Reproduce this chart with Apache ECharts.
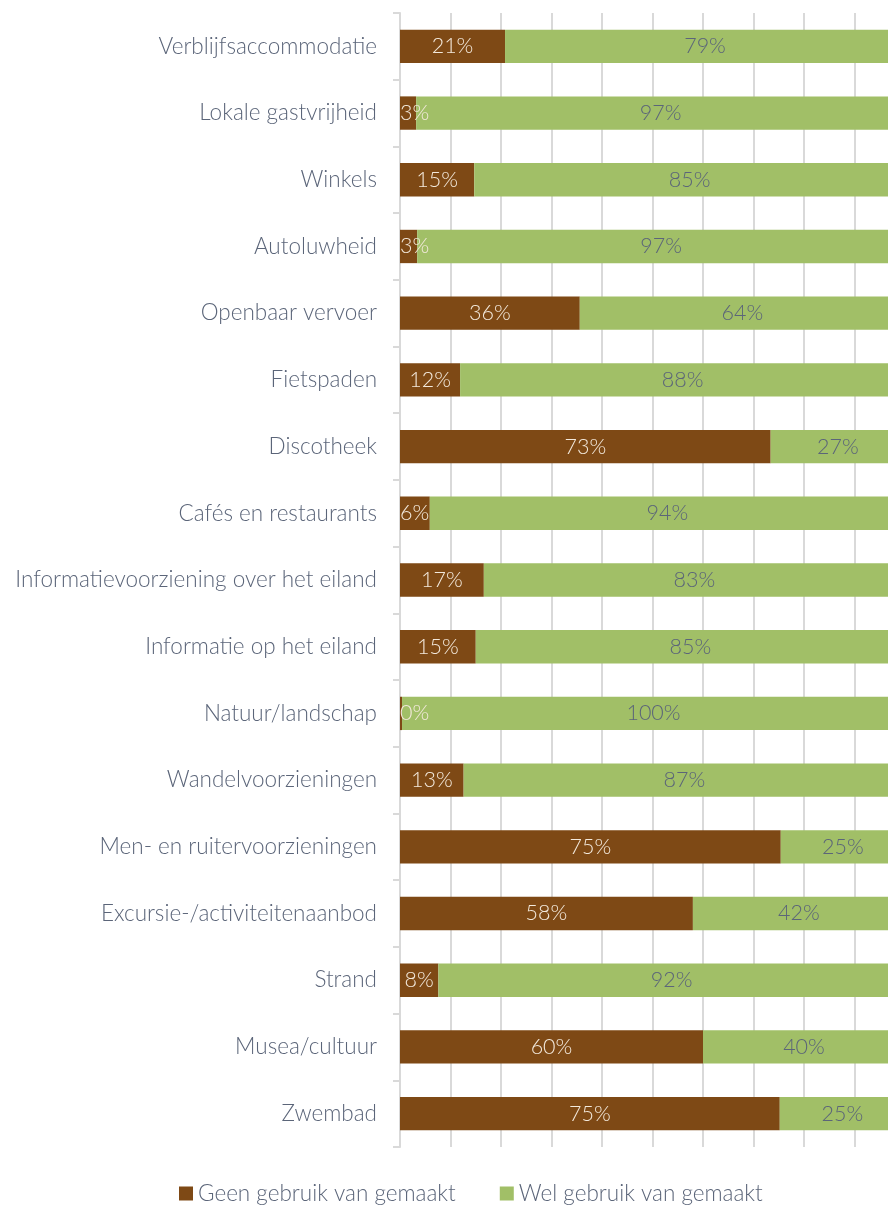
<!DOCTYPE html>
<html>
<head>
<meta charset="utf-8">
<script src="https://cdn.jsdelivr.net/npm/echarts@6/dist/echarts.min.js"></script>
<style>
  html, body { margin: 0; padding: 0; background: #fff; }
  #chart { width: 888px; height: 1212px; }
</style>
</head>
<body>
<div id="chart"></div>
<script>
// categories, top to bottom as in the picture
const categories = [
  "Verblijfsaccommodatie",
  "Lokale gastvrijheid",
  "Winkels",
  "Autoluwheid",
  "Openbaar vervoer",
  "Fietspaden",
  "Discotheek",
  "Cafés en restaurants",
  "Informatievoorziening over het eiland",
  "Informatie op het eiland",
  "Natuur/landschap",
  "Wandelvoorzieningen",
  "Men- en ruitervoorzieningen",
  "Excursie-/activiteitenaanbod",
  "Strand",
  "Musea/cultuur",
  "Zwembad"
];
// percentages
const geenValues = [20.8, 3.2, 14.7, 3.4, 35.6, 11.9, 73.4, 5.9, 16.6, 15.0, 0.4, 12.6, 75.4, 58.0, 7.6, 60.0, 75.2];
const welValues = [79.2, 96.8, 85.3, 96.6, 64.4, 88.1, 26.6, 94.1, 83.4, 85.0, 99.6, 87.4, 24.6, 42.0, 92.4, 40.0, 24.8];
const seriesNames = ["Geen gebruik van gemaakt", "Wel gebruik van gemaakt"];

const FONT = "Lato";
const TEXT = "#5b6579";
const BROWN = "#7e4915";
const GREEN = "#a1bf67";

const chart = echarts.init(document.getElementById("chart"), null, { renderer: "canvas" });

function makeData(values, small) {
  return values.map((v) => {
    if (small && v < 7) {
      return { value: v, label: { position: "insideLeft", distance: 0 } };
    }
    return v;
  });
}

chart.setOption({
  animation: false,
  textStyle: { fontFamily: FONT },
  // the plot runs past the right edge of the picture (100% sits at ~905px)
  grid: { left: 400, top: 13, height: 1134, width: 505, outerBoundsMode: "none" },
  legend: {
    bottom: 2,
    left: 174,
    itemWidth: 14,
    itemHeight: 14,
    itemGap: 44,
    icon: "rect",
    textStyle: { fontFamily: FONT, fontSize: 22.5, color: TEXT, fontWeight: 300 },
    data: seriesNames
  },
  xAxis: {
    type: "value",
    min: 0,
    max: 100,
    interval: 10,
    axisLabel: { show: false },
    axisLine: { show: false },
    axisTick: { show: false },
    splitLine: { lineStyle: { color: "#d9d9d9", width: 2 } }
  },
  yAxis: {
    type: "category",
    inverse: true,
    data: categories,
    axisLine: { show: true, lineStyle: { color: "#d9d9d9", width: 2 } },
    axisTick: { show: true, length: 7, lineStyle: { color: "#d9d9d9", width: 2 } },
    axisLabel: {
      margin: 23,
      fontFamily: FONT,
      fontSize: 22.5,
      fontWeight: 300,
      color: TEXT
    }
  },
  series: [
    {
      name: seriesNames[0],
      type: "bar",
      stack: "total",
      barWidth: "50%",
      itemStyle: { color: BROWN },
      label: {
        show: true,
        position: "inside",
        fontFamily: FONT,
        fontSize: 21.5,
        fontWeight: 300,
        color: "#f3e9dc",
        formatter: (p) => Math.round(p.value) + "%"
      },
      data: makeData(geenValues, true)
    },
    {
      name: seriesNames[1],
      type: "bar",
      stack: "total",
      barWidth: "50%",
      itemStyle: { color: GREEN },
      label: {
        show: true,
        position: "inside",
        fontFamily: FONT,
        fontSize: 21.5,
        fontWeight: 300,
        color: TEXT,
        formatter: (p) => Math.round(p.value) + "%"
      },
      data: makeData(welValues, false)
    }
  ]
});
</script>
</body>
</html>
